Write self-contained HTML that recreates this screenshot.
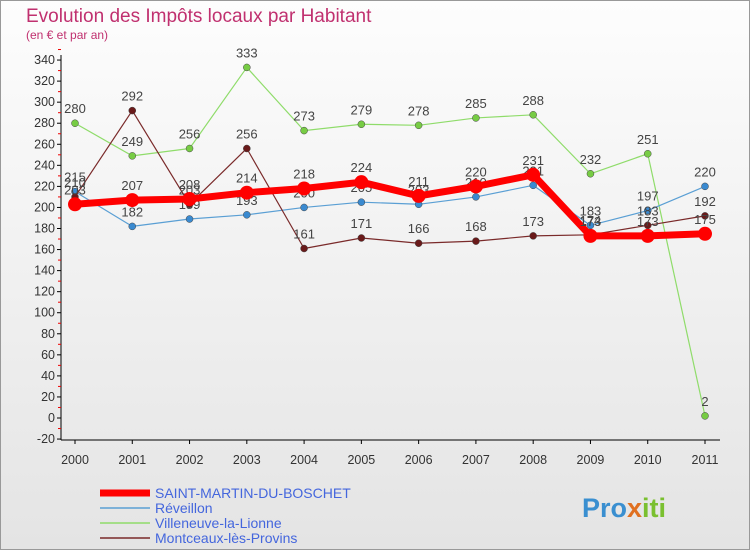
<!DOCTYPE html>
<html><head><meta charset="utf-8"><style>
body{margin:0;width:750px;height:550px;overflow:hidden;font-family:"Liberation Sans",sans-serif}
</style></head><body>
<svg id="c" width="750" height="550" xmlns="http://www.w3.org/2000/svg">
<defs><linearGradient id="bg" x1="0" y1="0" x2="0" y2="1"><stop offset="0" stop-color="#fdfdfd"/><stop offset="1" stop-color="#e4e4e4"/></linearGradient></defs>
<rect x="0.5" y="0.5" width="749" height="549" fill="url(#bg)" stroke="#999"/>
<text x="26" y="22" font-size="19" fill="#c0306f">Evolution des Impôts locaux par Habitant</text>
<text x="26" y="39" font-size="12" fill="#c0306f">(en € et par an)</text>
<g id="axes"></g><g id="series"></g><g id="legend"></g>
<text x="582" y="517" font-size="27" font-weight="bold" fill="#3a8fd0">Pro<tspan fill="#e07020">x</tspan><tspan fill="#7ac030">iti</tspan></text>
</svg>
<script>
const years=[2000,2001,2002,2003,2004,2005,2006,2007,2008,2009,2010,2011];
const stMartin=[203,207,208,214,218,224,211,220,231,173,173,175];
const reveillon=[215,182,189,193,200,205,203,210,221,183,197,220];
const villeneuve=[280,249,256,333,273,279,278,285,288,232,251,2];
const montceaux=[210,292,203,256,161,171,166,168,173,174,183,192];
const yTicks=[-20,0,20,40,60,80,100,120,140,160,180,200,220,240,260,280,300,320,340];
const NS="http://www.w3.org/2000/svg";
const X=i=>75+i*(630/11);
const Y=v=>418-v*(379/360);
function mk(t,a,p){const e=document.createElementNS(NS,t);for(const k in a)e.setAttribute(k,a[k]);p.appendChild(e);return e;}
const ax=document.getElementById('axes');
const yl=mk('line',{x1:61,y1:55,x2:61,y2:440,stroke:'#000'},ax);


const xl=mk('line',{x1:61,y1:440,x2:720,y2:440,stroke:'#000'},ax);


yTicks.forEach(v=>{
 mk('line',{x1:57,y1:Y(v),x2:61,y2:Y(v),stroke:'#000'},ax);
 mk('line',{x1:58,y1:Y(v+10),x2:61,y2:Y(v+10),stroke:'#e00'},ax);
 const t=mk('text',{x:55,y:Y(v)+4,'font-size':12.5,'text-anchor':'end',fill:'#333'},ax);t.textContent=v;
 
 
});
years.forEach((y,i)=>{
 mk('line',{x1:X(i),y1:440,x2:X(i),y2:444,stroke:'#000'},ax);
 const t=mk('text',{x:X(i),y:464,'font-size':12.5,'text-anchor':'middle',fill:'#333'},ax);t.textContent=y;
 
 
});
const sg=document.getElementById('series');
function draw(data,color,w,r,dot,name){
 const g=mk('g',{},sg);
 
 
 mk('polyline',{points:data.map((v,i)=>X(i)+','+Y(v)).join(' '),fill:'none',stroke:color,'stroke-width':w,'stroke-linejoin':'round'},g);
 data.forEach((v,i)=>{
  const c=mk('circle',{cx:X(i),cy:Y(v),r:r,fill:dot,stroke:w>3?'none':'#444','stroke-width':0.5},g);
  
  
  const t=mk('text',{x:X(i),y:Y(v)-10,'font-size':13,'text-anchor':'middle',fill:'#444'},g);t.textContent=v;
  
  
 });
}
draw(villeneuve,'#8fdc6a',1.2,3.5,'#77cc44','villeneuve');
draw(reveillon,'#5a9fd4',1.2,3.5,'#3a8ad0','reveillon');
draw(montceaux,'#7a2a2a',1.2,3.5,'#6a1a1a','montceaux');
draw(stMartin,'#ff0000',7,7,'#ff0000','st-martin');
const lg=document.getElementById('legend');
const items=[['SAINT-MARTIN-DU-BOSCHET','#ff0000',7],['Réveillon','#5a9fd4',1.5],['Villeneuve-la-Lionne','#8fdc6a',1.5],['Montceaux-lès-Provins','#7a2a2a',1.5]];
items.forEach((it,i)=>{
 const y=493+i*15;
 const g=mk('g',{},lg);
 
 
 mk('line',{x1:100,y1:y,x2:150,y2:y,stroke:it[1],'stroke-width':it[2]},g);
 const t=mk('text',{x:155,y:y+5,'font-size':14,fill:'#4466dd'},g);t.textContent=it[0];
});
</script>
</body></html>
